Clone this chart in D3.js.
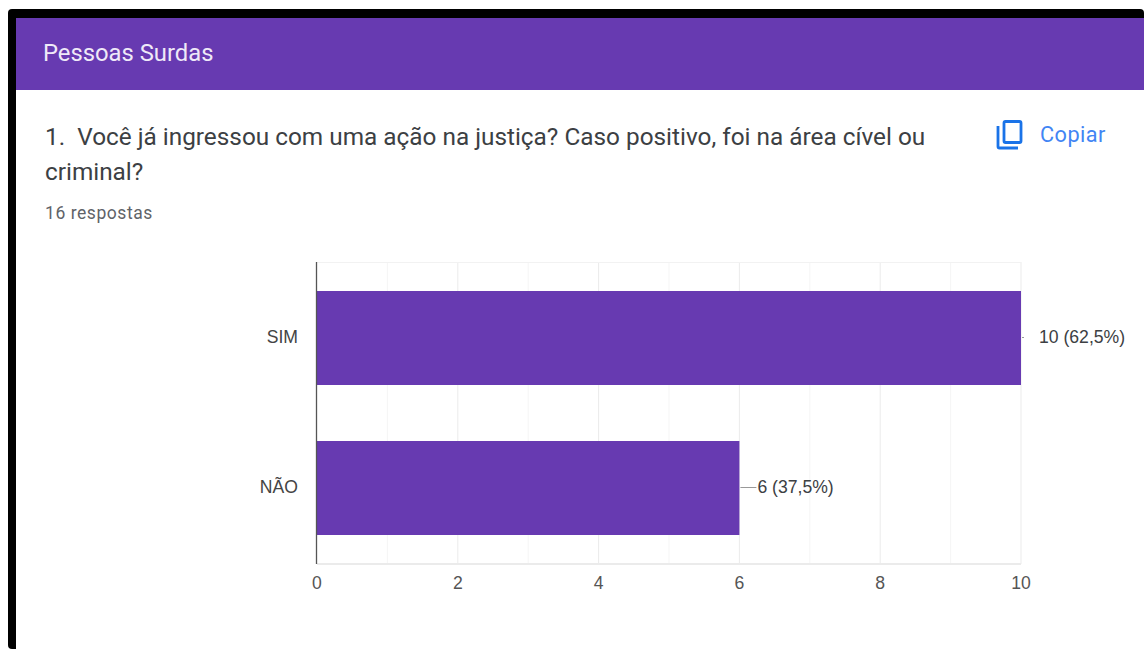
<!DOCTYPE html>
<html><head><meta charset="utf-8">
<script src="https://cdnjs.cloudflare.com/ajax/libs/d3/7.8.5/d3.min.js"></script>
<style>html,body{margin:0;padding:0;background:#fff;overflow:hidden}svg{display:block}text{font-family:Roboto,sans-serif}</style>
</head><body><div id="c"></div>
<script>
const categories = ["SIM", "NÃO"];
const values = [10, 6];
const valueLabels = ["10 (62,5%)", "6 (37,5%)"];
const majorTicks = [0, 2, 4, 6, 8, 10];
const minorTicks = [1, 3, 5, 7, 9];
const sectionTitle = "Pessoas Surdas";
const questionLines = ["1.  Você já ingressou com uma ação na justiça? Caso positivo, foi na área cível ou", "criminal?"];
const responses = "16 respostas";
const copyLabel = "Copiar";

const purple = "#673ab1";
const svg = d3.select("#c").append("svg").attr("width", 1144).attr("height", 649);

// page frame
svg.append("rect").attr("x", 8).attr("y", 9).attr("width", 1136).attr("height", 640).attr("rx", 4).attr("fill", "#000");
svg.append("rect").attr("x", 16).attr("y", 18).attr("width", 1128).attr("height", 631).attr("fill", "#fff");
svg.append("rect").attr("x", 16).attr("y", 18).attr("width", 1128).attr("height", 72).attr("fill", purple);
svg.append("text").attr("x", 43).attr("y", 61).attr("fill", "#efe9f8").attr("font-size", 23.8).text(sectionTitle);

svg.selectAll("text.q").data(questionLines).join("text").attr("class", "q")
  .attr("x", 45).attr("y", (d, i) => 145 + i * 35).attr("fill", "#3c4043").attr("font-size", 24.35)
  .style("white-space", "pre").text(d => d);
svg.append("text").attr("x", 45).attr("y", 219).attr("fill", "#5f6368").attr("font-size", 17.5).attr("letter-spacing", 0.55).text(responses);

// copy icon
const ic = svg.append("g").attr("fill", "none").attr("stroke", "#1a73e8").attr("stroke-width", 2.8);
ic.append("rect").attr("x", 1004).attr("y", 121.5).attr("width", 17).attr("height", 21).attr("rx", 1.5);
ic.append("path").attr("d", "M998 126V146.5a1.5 1.5 0 0 0 1.5 1.5H1018");
svg.append("text").attr("x", 1040).attr("y", 142).attr("fill", "#4285f4").attr("font-size", 21.7).attr("letter-spacing", 0.45).text(copyLabel);

// chart
const x = d3.scaleLinear().domain([0, 10]).range([317, 1021]);
const y = d3.scaleBand().domain(categories).range([263, 563]).paddingInner(56 / 150).paddingOuter(28 / 150);

svg.append("g").selectAll("line").data(minorTicks).join("line")
  .attr("x1", d => x(d)).attr("x2", d => x(d)).attr("y1", 262).attr("y2", 564).attr("stroke", "#f5f5f5");
svg.append("g").selectAll("line").data(majorTicks.slice(1)).join("line")
  .attr("x1", d => x(d)).attr("x2", d => x(d)).attr("y1", 262).attr("y2", 564).attr("stroke", "#ebebeb");
svg.append("line").attr("x1", 317).attr("x2", 1021).attr("y1", 262.5).attr("y2", 262.5).attr("stroke", "#f2f2f2");
svg.append("line").attr("x1", 317).attr("x2", 1021).attr("y1", 564).attr("y2", 564).attr("stroke", "#ebebeb").attr("stroke-width", 2);

svg.append("g").selectAll("rect").data(categories).join("rect")
  .attr("x", x(0)).attr("y", d => y(d)).attr("width", (d, i) => x(values[i]) - x(0)).attr("height", y.bandwidth()).attr("fill", purple);

svg.append("line").attr("x1", 316.5).attr("x2", 316.5).attr("y1", 262).attr("y2", 564).attr("stroke", "#555").attr("stroke-width", 1.3);

// value leaders and labels: the leader of the longest bar is nearly hidden
svg.append("g").selectAll("line").data(categories).join("line")
  .attr("x1", (d, i) => x(values[i]) + 1).attr("x2", (d, i) => x(values[i]) + (values[i] === d3.max(values) ? 3 : 17))
  .attr("y1", d => y(d) + y.bandwidth() / 2 - 0.5).attr("y2", d => y(d) + y.bandwidth() / 2 - 0.5).attr("stroke", "#999");
svg.append("g").selectAll("text").data(categories).join("text")
  .attr("x", (d, i) => x(values[i]) + 18).attr("y", d => y(d) + y.bandwidth() / 2 + 5)
  .attr("fill", "#3c4043").attr("font-size", 17.6).style("font-family", "'Liberation Sans'")
  .text((d, i) => valueLabels[i]);

const lab = "'Liberation Sans'";
svg.append("g").selectAll("text").data(categories).join("text")
  .attr("x", 298).attr("y", d => y(d) + y.bandwidth() / 2 + 5).attr("text-anchor", "end")
  .attr("fill", "#444").attr("font-size", 17.6).style("font-family", lab).text(d => d);
svg.append("g").selectAll("text").data(majorTicks).join("text")
  .attr("x", d => x(d)).attr("y", 589).attr("text-anchor", "middle")
  .attr("fill", "#555").attr("font-size", 17.6).style("font-family", lab).text(d => d);
</script></body></html>
